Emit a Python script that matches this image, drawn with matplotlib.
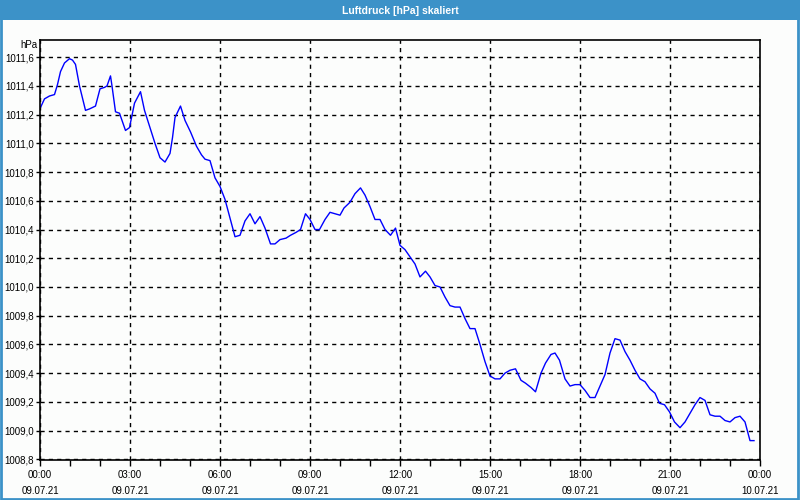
import numpy as np
import matplotlib
matplotlib.use("Agg")
import matplotlib.pyplot as plt
from matplotlib.patches import Rectangle
from matplotlib.ticker import FuncFormatter, MultipleLocator

# ---------------------------------------------------------------------------
# Data: minutes after 09.07.21 00:00 and pressure in hPa
# ---------------------------------------------------------------------------
minutes = [1, 9, 19, 29, 35, 41, 49, 59, 65, 71, 79, 91, 99, 111, 120, 129,
           134, 141, 144, 151, 159, 171, 179, 189, 201, 209, 219, 230, 240,
           250, 260, 265, 270, 281, 290, 301, 313, 323, 330, 340, 350, 360,
           370, 380, 390, 400, 410, 420, 430, 440, 450, 461, 470, 480, 492,
           501, 512, 521, 531, 540, 550, 559, 570, 580, 590, 600, 608, 620,
           630, 641, 650, 660, 670, 680, 690, 701, 711, 720, 730, 740, 750,
           760, 771, 780, 790, 800, 810, 820, 830, 840, 850, 860, 870, 880,
           890, 900, 910, 920, 930, 940, 951, 962, 971, 982, 991, 1002, 1011,
           1022, 1030, 1039, 1050, 1060, 1070, 1080, 1090, 1100, 1110, 1120,
           1130, 1140, 1150, 1160, 1170, 1180, 1190, 1200, 1210, 1220, 1230,
           1239, 1249, 1259, 1269, 1280, 1290, 1300, 1310, 1320, 1330, 1340,
           1350, 1360, 1370, 1380, 1390, 1400, 1410, 1420, 1428]
pressure = [1011.25, 1011.31, 1011.33, 1011.34, 1011.41, 1011.50, 1011.56,
            1011.59, 1011.58, 1011.55, 1011.40, 1011.23, 1011.24, 1011.26,
            1011.38, 1011.39, 1011.40, 1011.47, 1011.40, 1011.22, 1011.21,
            1011.09, 1011.11, 1011.28, 1011.36, 1011.23, 1011.12, 1011.00,
            1010.90, 1010.87, 1010.93, 1011.04, 1011.18, 1011.26, 1011.16,
            1011.08, 1010.98, 1010.92, 1010.89, 1010.88, 1010.76, 1010.70,
            1010.61, 1010.48, 1010.35, 1010.36, 1010.46, 1010.51, 1010.44,
            1010.49, 1010.41, 1010.30, 1010.30, 1010.33, 1010.34, 1010.36,
            1010.38, 1010.40, 1010.51, 1010.47, 1010.40, 1010.40, 1010.47,
            1010.52, 1010.51, 1010.50, 1010.55, 1010.59, 1010.65, 1010.69,
            1010.64, 1010.56, 1010.47, 1010.47, 1010.40, 1010.36, 1010.41,
            1010.29, 1010.26, 1010.21, 1010.16, 1010.07, 1010.11, 1010.07,
            1010.01, 1010.00, 1009.93, 1009.87, 1009.86, 1009.86, 1009.78,
            1009.71, 1009.71, 1009.60, 1009.48, 1009.38, 1009.36, 1009.36,
            1009.40, 1009.42, 1009.43, 1009.35, 1009.33, 1009.30, 1009.27,
            1009.40, 1009.47, 1009.53, 1009.54, 1009.49, 1009.36, 1009.31,
            1009.32, 1009.32, 1009.28, 1009.23, 1009.23, 1009.31, 1009.39,
            1009.54, 1009.64, 1009.63, 1009.55, 1009.49, 1009.42, 1009.36,
            1009.34, 1009.29, 1009.26, 1009.19, 1009.18, 1009.13, 1009.06,
            1009.02, 1009.06, 1009.12, 1009.18, 1009.23, 1009.21, 1009.11,
            1009.10, 1009.10, 1009.07, 1009.06, 1009.09, 1009.10, 1009.06,
            1008.93, 1008.93]

tick_hours = [0, 3, 6, 9, 12, 15, 18, 21, 24]
tick_labels = ["00:00\n09.07.21", "03:00\n09.07.21", "06:00\n09.07.21",
               "09:00\n09.07.21", "12:00\n09.07.21", "15:00\n09.07.21",
               "18:00\n09.07.21", "21:00\n09.07.21", "00:00\n10.07.21"]
y_ticks = [1008.8, 1009.0, 1009.2, 1009.4, 1009.6, 1009.8, 1010.0,
           1010.2, 1010.4, 1010.6, 1010.8, 1011.0, 1011.2, 1011.4, 1011.6]

title = "Luftdruck [hPa] skaliert"
frame_blue = "#3c92c8"
bg = "#fcfdfc"

plt.rcParams["font.family"] = ["Liberation Sans", "DejaVu Sans"]

# ---------------------------------------------------------------------------
# Plot
# ---------------------------------------------------------------------------
fig = plt.figure(figsize=(8, 5), dpi=100, facecolor=bg)

# title bar and outer frame
fig.add_artist(Rectangle((0, 0.96), 1, 0.04, transform=fig.transFigure,
                         facecolor=frame_blue, edgecolor="none"))
fig.add_artist(Rectangle((0.001, 0.002), 0.997, 0.997, transform=fig.transFigure,
                         facecolor="none", edgecolor=frame_blue, linewidth=2))
fig.text(0.5, 0.979, title, color="white", fontsize=7.5, fontweight="bold",
         ha="center", va="center")

ax = fig.add_axes([0.05, 0.08, 0.90, 0.84])
ax.set_facecolor(bg)

hours = np.array(minutes) / 60.0
ax.plot(hours, pressure, color="#0000ff", linewidth=1.0)

ax.set_xlim(0, 24)
ax.set_ylim(1008.795, 1011.72)

ax.set_xticks(tick_hours)
ax.set_xticklabels(tick_labels, fontsize=7, linespacing=1.75)
ax.xaxis.set_minor_locator(MultipleLocator(1))
ax.set_yticks(y_ticks)
ax.yaxis.set_major_formatter(FuncFormatter(lambda v, p: f"{v:.1f}".replace(".", ",")))

ax.tick_params(axis="x", which="major", length=4, width=1, pad=3)
ax.tick_params(axis="x", which="minor", length=4, width=1)
ax.tick_params(axis="y", which="major", length=3, width=1, pad=1.5, labelsize=7)

ax.grid(True, which="major", color="black", linestyle=(0, (3, 3)), linewidth=1)

for s in ax.spines.values():
    s.set_color("black")
    s.set_linewidth(1.2)

ax.text(-0.004, 1.0, "hPa", transform=ax.transAxes, ha="right", va="top",
        fontsize=7)

fig.savefig("out.png", dpi=100, facecolor=bg)
